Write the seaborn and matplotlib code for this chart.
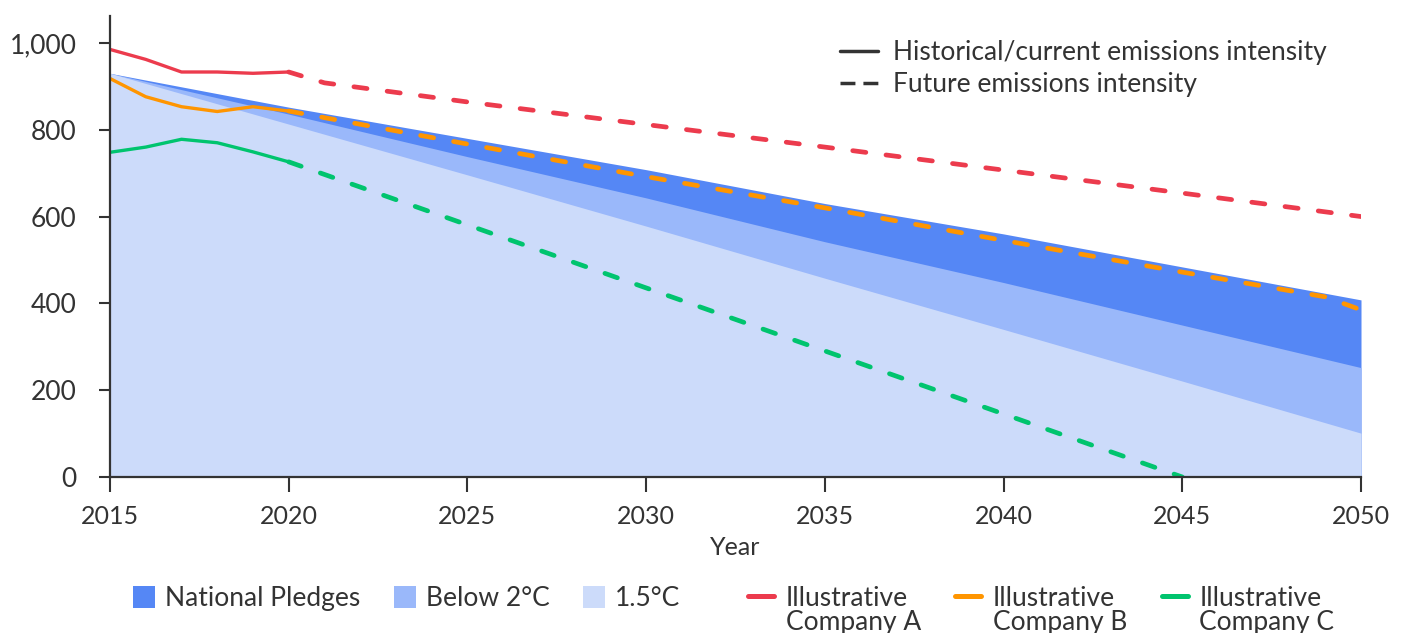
import numpy as np
import pandas as pd
import matplotlib
matplotlib.use("Agg")
import matplotlib.pyplot as plt
import seaborn as sns
from matplotlib.lines import Line2D
from matplotlib.patches import Patch
from matplotlib.ticker import FuncFormatter

# pathway bands (5-year points)
band_years = [2015, 2020, 2025, 2030, 2035, 2040, 2045, 2050]
national_pledges = [930, 852, 780, 708, 630, 560, 484, 408]
below_2c = [930, 836, 738, 643, 542, 448, 350, 252]
limit_1_5c = [930, 813, 696, 578, 458, 340, 221, 101]

# company emissions intensity
hist_years = [2015, 2016, 2017, 2018, 2019, 2020]
company_a_hist = [985, 962, 933, 933, 930, 933]
company_b_hist = [918, 876, 853, 842, 853, 843]
company_c_hist = [748, 760, 778, 770, 749, 726]

company_a_fut_years = [2020, 2021, 2025, 2030, 2035, 2040, 2045, 2050]
company_a_fut = [933, 908, 864, 812, 760, 707, 654, 600]
company_b_fut_years = [2020, 2025, 2030, 2035, 2040, 2045, 2049, 2050]
company_b_fut = [843, 767, 692, 620, 545, 472, 415, 385]
company_c_fut_years = [2020, 2045]
company_c_fut = [726, 0]

x_ticks = [2015, 2020, 2025, 2030, 2035, 2040, 2045, 2050]
y_ticks = [0, 200, 400, 600, 800, 1000]

c_dark = "#5587f5"
c_mid = "#9ab8fa"
c_light = "#ccdbfa"
c_red = "#ec3b4d"
c_orange = "#ff9500"
c_green = "#00c46e"
txt = "#333333"

sns.set_theme(style="white")
plt.rcParams["font.family"] = ["Lato", "DejaVu Sans"]
plt.rcParams["text.color"] = txt

fig = plt.figure(figsize=(14.02, 6.33), dpi=100)
ax = fig.add_axes([110 / 1402, 1 - 477 / 633, 1251 / 1402, 461 / 633])

bands = pd.DataFrame({"year": band_years, "np": national_pledges,
                      "b2": below_2c, "c15": limit_1_5c})
ax.fill_between(bands["year"], 0, bands["np"], color=c_dark, lw=0, zorder=1)
ax.fill_between(bands["year"], 0, bands["b2"], color=c_mid, lw=0, zorder=1)
ax.fill_between(bands["year"], 0, bands["c15"], color=c_light, lw=0, zorder=1)

dash = (0, (2.8, 4.3))
for hy, fy, fv, col in [(company_a_hist, company_a_fut_years, company_a_fut, c_red),
                        (company_b_hist, company_b_fut_years, company_b_fut, c_orange),
                        (company_c_hist, company_c_fut_years, company_c_fut, c_green)]:
    sns.lineplot(x=hist_years, y=hy, color=col, linewidth=2.4, ax=ax,
                 solid_capstyle="round", zorder=3)
    sns.lineplot(x=fy, y=fv, color=col, linewidth=3.4, ax=ax,
                 linestyle=dash, dash_capstyle="round", zorder=3)

ax.set_xlim(2015, 2050)
ax.set_ylim(0, 1062)
ax.set_xticks(x_ticks)
ax.set_yticks(y_ticks)
ax.yaxis.set_major_formatter(FuncFormatter(lambda v, p: f"{v:,.0f}"))
ax.set_xlabel("Year", fontsize=18, color=txt, labelpad=6)
ax.set_ylabel("")
ax.tick_params(axis="x", direction="out", length=11, width=1.5, color=txt,
               labelsize=18, labelcolor=txt, pad=9, bottom=True)
ax.tick_params(axis="y", direction="out", length=8, width=1.5, color=txt,
               labelsize=19, labelcolor=txt, pad=16, left=True)
for s in ["top", "right"]:
    ax.spines[s].set_visible(False)
for s in ["left", "bottom"]:
    ax.spines[s].set_color(txt)
    ax.spines[s].set_linewidth(1.6)
    ax.spines[s].set_zorder(4)

# line-style legend (top right)
style_handles = [Line2D([], [], color=txt, lw=2.5),
                 Line2D([], [], color=txt, lw=2.5, linestyle=(0, (4.3, 2.3)))]
fig.legend(style_handles, ["Historical/current emissions intensity", "Future emissions intensity"],
           loc="upper left", bbox_to_anchor=(840 / 1402, 1 - 40 / 633), frameon=False,
           fontsize=19, handlelength=1.44, handletextpad=0.57, labelspacing=0.28,
           borderpad=0, borderaxespad=0)

# bottom legends
area_handles = [Patch(color=c_dark, lw=0), Patch(color=c_mid, lw=0), Patch(color=c_light, lw=0)]
fig.legend(area_handles, ["National Pledges", "Below 2°C", "1.5°C"], ncol=3,
           loc="upper left", bbox_to_anchor=(133 / 1402, 1 - 586 / 633), frameon=False,
           fontsize=19, handlelength=0.83, handleheight=0.91, handletextpad=0.38,
           columnspacing=1.28, borderpad=0, borderaxespad=0)

comp_handles = [Line2D([], [], color=c, lw=3.6, solid_capstyle="round")
                for c in [c_red, c_orange, c_green]]
comp_leg = fig.legend(comp_handles, ["Illustrative"] * 3, ncol=3,
                      loc="upper left", bbox_to_anchor=(748 / 1402, 1 - 586 / 633),
                      frameon=False, fontsize=19, handlelength=0.98, handleheight=0.91,
                      handletextpad=0.45, columnspacing=1.78, borderpad=0, borderaxespad=0)

fig.canvas.draw()
W, H = fig.bbox.width, fig.bbox.height
for t, name in zip(comp_leg.get_texts(), ["Company A", "Company B", "Company C"]):
    bb = t.get_window_extent()
    fig.text(bb.x0 / W, (bb.y0 - 24) / H, name, fontsize=19, color=txt,
             ha="left", va="bottom")

fig.savefig("out.png", dpi=100)
